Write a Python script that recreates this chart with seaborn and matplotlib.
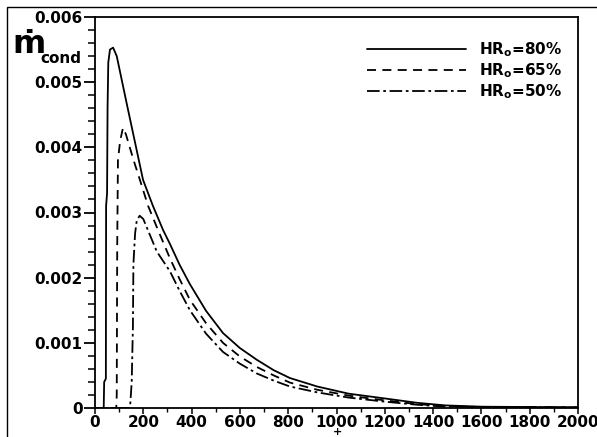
import numpy as np
import pandas as pd
import matplotlib
matplotlib.use("Agg")
import matplotlib.pyplot as plt
from matplotlib.ticker import MultipleLocator
from matplotlib.patches import Rectangle
import seaborn as sns

# values
x_80 = [0, 36, 38, 45, 46, 50, 52, 55, 62, 75, 90, 132, 199, 240, 282, 310, 350, 393,
        460, 530, 600, 670, 740, 807, 920, 1050, 1193, 1333, 1450, 1600, 2000]
y_80 = [0, 0, 0.00040, 0.00045, 0.0031, 0.0033, 0.0046, 0.0053, 0.0055, 0.00553,
        0.0054, 0.00466, 0.0035, 0.0031, 0.00273, 0.00252, 0.0022, 0.0019, 0.00149,
        0.00115, 0.00092, 0.00074, 0.00058, 0.00046, 0.00033, 0.00022, 0.00015,
        0.00008, 0.00004, 0.00002, 0.00001]

x_65 = [0, 88, 90, 92, 95, 104, 116, 128, 160, 186, 220, 261, 310, 350, 393, 460, 530,
        600, 670, 740, 807, 920, 1050, 1193, 1333, 1450, 1600, 2000]
y_65 = [0, 0, 0.0002, 0.0025, 0.0038, 0.0041, 0.0043, 0.0042, 0.0038, 0.0035,
        0.0031, 0.00273, 0.0023, 0.00198, 0.00166, 0.0013, 0.00100, 0.00079, 0.00063,
        0.0005, 0.00039, 0.00028, 0.00019, 0.00012, 0.00006, 0.00003, 0.00001, 0.00001]

x_50 = [0, 145, 152, 157, 159, 166, 173, 185, 200, 256, 310, 350, 393, 460, 530, 600,
        670, 740, 807, 920, 1050, 1193, 1333, 1450, 2000]
y_50 = [0, 0, 0.0004, 0.00125, 0.0022, 0.00268, 0.00288, 0.00295, 0.0029, 0.0024,
        0.0021, 0.0018, 0.0015, 0.00114, 0.00086, 0.00068, 0.00053, 0.00042, 0.00033,
        0.00024, 0.00016, 0.0001, 0.00005, 0.00002, 0.00001]

labels = [r"HR$_\mathbf{o}$=80%", r"HR$_\mathbf{o}$=65%", r"HR$_\mathbf{o}$=50%"]

frames = []
for lab, xs, ys in zip(labels, [x_80, x_65, x_50], [y_80, y_65, y_50]):
    frames.append(pd.DataFrame({"t": xs, "m": ys, "case": lab}))
df = pd.concat(frames, ignore_index=True)

sns.set_style("ticks")
plt.rcParams["font.family"] = ["DejaVu Sans"]
plt.rcParams["font.weight"] = "bold"
plt.rcParams["mathtext.fontset"] = "dejavusans"
for key in ["text.color", "axes.labelcolor", "xtick.color", "ytick.color"]:
    plt.rcParams[key] = "black"

fig = plt.figure(figsize=(5.97, 4.37), dpi=100)
ax = fig.add_axes([95 / 597, 1 - 408 / 437, 483 / 597, 391 / 437])

sns.lineplot(data=df, x="t", y="m", hue="case", style="case",
             palette=["black"] * 3,
             dashes={labels[0]: "", labels[1]: (5, 3.5), labels[2]: (7, 2, 1.5, 2)},
             estimator=None, sort=False, linewidth=1.3, ax=ax)

ax.set_xlim(0, 2000)
ax.set_ylim(0, 0.006)
ax.xaxis.set_major_locator(MultipleLocator(200))
ax.xaxis.set_minor_locator(MultipleLocator(100))
ax.yaxis.set_minor_locator(MultipleLocator(0.0002))
ax.set_yticks([0, 0.001, 0.002, 0.003, 0.004, 0.005, 0.006])
ax.set_yticklabels(["0", "0.001", "0.002", "0.003", "0.004", "0.005", "0.006"])
ax.tick_params(axis="y", which="major", direction="out", length=8, width=1.3,
               labelsize=11, pad=1)
ax.tick_params(axis="y", which="minor", direction="out", length=5, width=1.1)
ax.tick_params(axis="x", which="major", direction="out", length=4, width=1.1,
               labelsize=11, pad=1)
ax.tick_params(axis="x", which="minor", direction="out", length=3, width=1.0)
for lab in ax.get_xticklabels() + ax.get_yticklabels():
    lab.set_fontweight("bold")
for s in ax.spines.values():
    s.set_visible(True)
    s.set_linewidth(1.3)
    s.set_color("black")
ax.set_xlabel("")
ax.set_ylabel("")

leg = ax.legend(loc="upper right", bbox_to_anchor=(0.995, 0.975), frameon=False,
                handlelength=6.5, handletextpad=0.8, labelspacing=0.15,
                prop={"weight": "bold", "size": 11})

# y label: m-dot with subscript "cond"
fig.text(12 / 597, 1 - 53 / 437, "ṁ", fontsize=23, fontweight="bold",
         ha="left", va="baseline")
fig.text(40 / 597, 1 - 63 / 437, "cond", fontsize=11, fontweight="bold",
         ha="left", va="baseline")
# cropped x label mark
fig.text(337 / 597, 1 - 437 / 437, "+", fontsize=8, fontweight="bold",
         ha="center", va="bottom")

# outer frame of the picture
fig.patches.append(Rectangle((7 / 597, -0.1), 1.2, 1 - 7 / 437 + 0.1,
                             transform=fig.transFigure, fill=False,
                             edgecolor="black", linewidth=1.0))

fig.savefig("out.png", dpi=100)
